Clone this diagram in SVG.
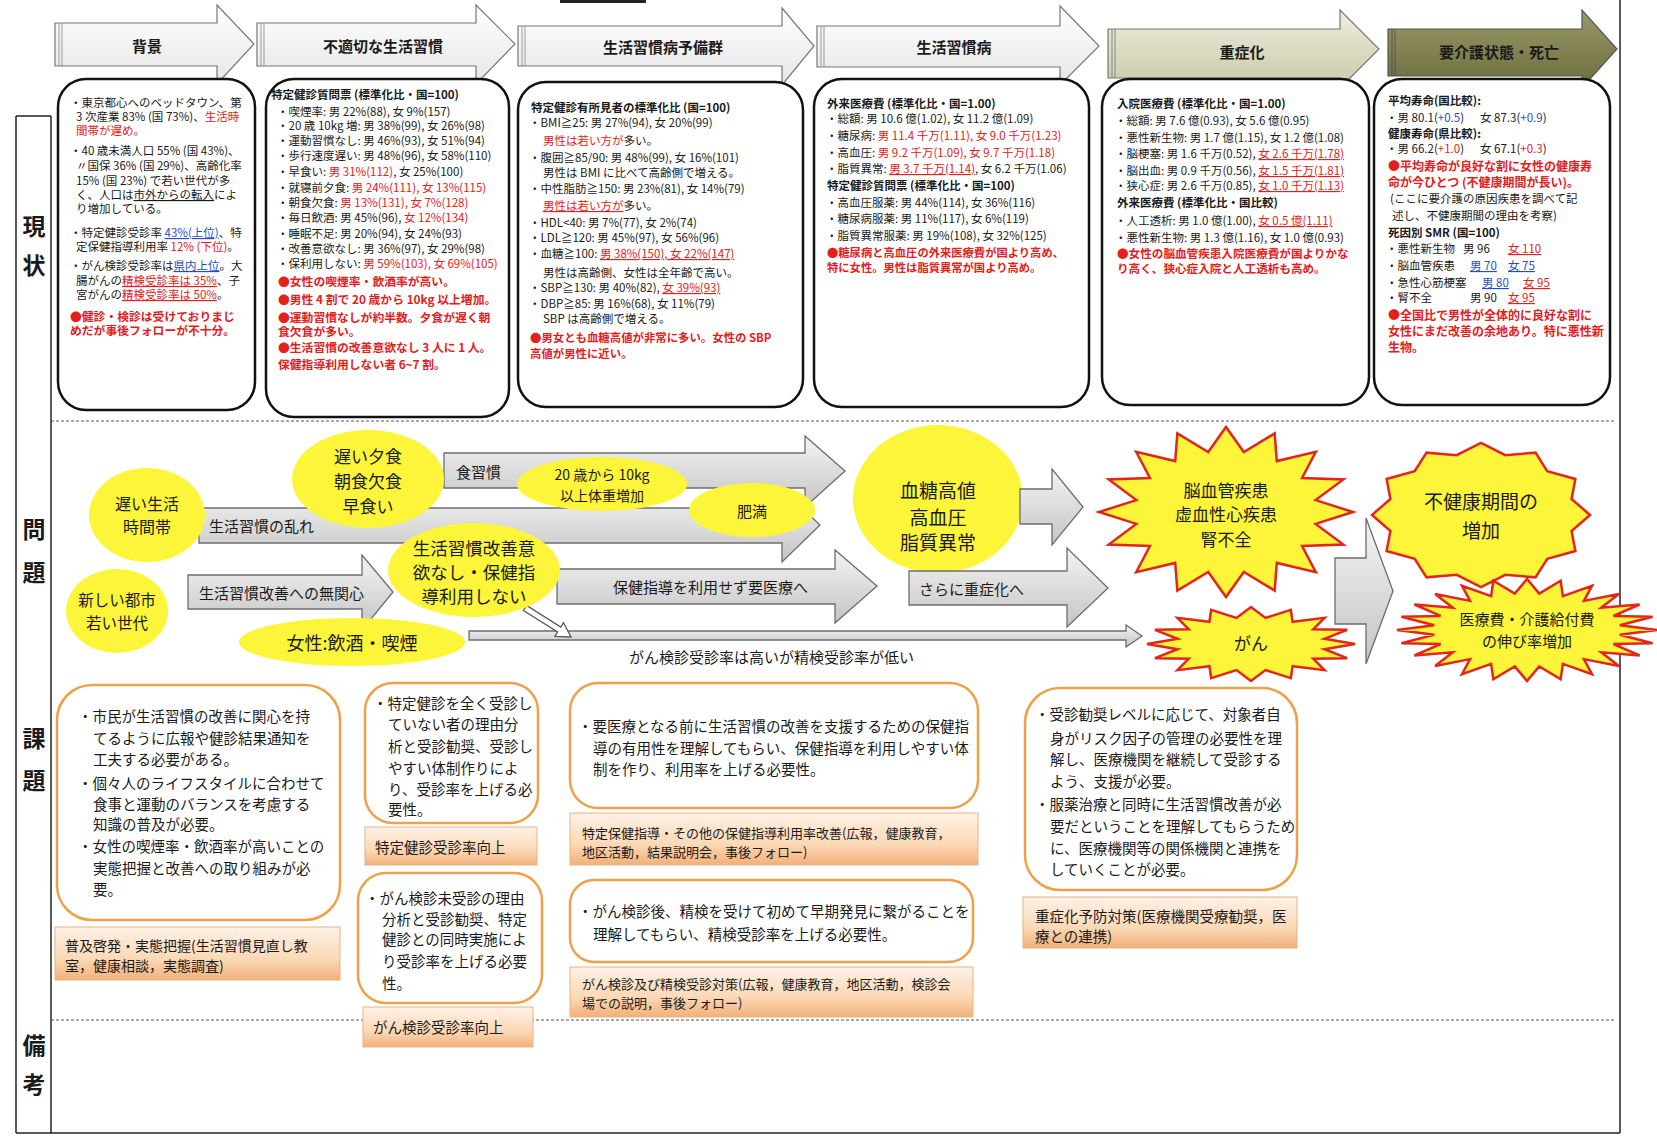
<svg xmlns="http://www.w3.org/2000/svg" width="1657" height="1137" viewBox="0 0 1657 1137">
<defs>
<style>
text{font-family:"Noto Sans CJK JP","Noto Sans CJK SC",sans-serif;fill:#1a1a1a;dominant-baseline:central}
.s{font-size:11.5px}
.h{font-size:11.5px;font-weight:700}
.rb{font-size:11.8px;font-weight:700;fill:#e4201c}
.r{fill:#e4201c}
.bl{fill:#1f4fc4}
.u{text-decoration:underline}
.hd{font-size:15px;font-weight:700;text-anchor:middle}
.lab{font-size:23px;font-weight:700;text-anchor:middle}
.box{fill:#fff;stroke:#111;stroke-width:2.5}
.obox{fill:#fff;stroke:#eea04a;stroke-width:2.5}
.sub{fill:url(#gsub);stroke:#e7b48a;stroke-width:1}
.m{font-size:15px}
.yl{fill:#fcf53a}
.st{fill:#fcf53a;stroke:#e3261d;stroke-width:2.5}
.ga{fill:url(#ggray);stroke:#6d6d6d;stroke-width:1.3}
.c{text-anchor:middle}
.bt{font-size:14.5px}
.sbt{font-size:13px}
.ln{stroke:#222;stroke-width:1.5;fill:none}
.dash{stroke:#555;stroke-width:1.2;stroke-dasharray:3 2;fill:none}
</style>
<linearGradient id="ggray" x1="0" y1="0" x2="0" y2="1">
<stop offset="0" stop-color="#f4f4f4"/><stop offset="1" stop-color="#c4c4c4"/>
</linearGradient>
<linearGradient id="gw" x1="0" y1="0" x2="0" y2="1">
<stop offset="0" stop-color="#ffffff"/><stop offset="1" stop-color="#e6e6e6"/>
</linearGradient>
<linearGradient id="gk" x1="0" y1="0" x2="0" y2="1">
<stop offset="0" stop-color="#eeeedd"/><stop offset="1" stop-color="#c9c9a8"/>
</linearGradient>
<linearGradient id="go" x1="0" y1="0" x2="0" y2="1">
<stop offset="0" stop-color="#9a9a68"/><stop offset="1" stop-color="#6c6c3e"/>
</linearGradient>
<linearGradient id="gsub" x1="0" y1="0" x2="0" y2="1">
<stop offset="0" stop-color="#fdf1e6"/><stop offset="0.6" stop-color="#fbd9b6"/><stop offset="1" stop-color="#f2b079"/>
</linearGradient>
<polygon id="star16" vector-effect="non-scaling-stroke" points="1,0 0.706,0.14 0.924,0.383 0.599,0.4 0.707,0.707 0.4,0.599 0.383,0.924 0.14,0.706 0,1 -0.14,0.706 -0.383,0.924 -0.4,0.599 -0.707,0.707 -0.599,0.4 -0.924,0.383 -0.706,0.14 -1,0 -0.706,-0.14 -0.924,-0.383 -0.599,-0.4 -0.707,-0.707 -0.4,-0.599 -0.383,-0.924 -0.14,-0.706 0,-1 0.14,-0.706 0.383,-0.924 0.4,-0.599 0.707,-0.707 0.599,-0.4 0.924,-0.383 0.706,-0.14"/>
<polygon id="star12" vector-effect="non-scaling-stroke" points="1,0 0.831,0.223 0.866,0.5 0.608,0.608 0.5,0.866 0.223,0.831 0,1 -0.223,0.831 -0.5,0.866 -0.608,0.608 -0.866,0.5 -0.831,0.223 -1,0 -0.831,-0.223 -0.866,-0.5 -0.608,-0.608 -0.5,-0.866 -0.223,-0.831 0,-1 0.223,-0.831 0.5,-0.866 0.608,-0.608 0.866,-0.5 0.831,-0.223"/>
<polygon id="star24" vector-effect="non-scaling-stroke" points="1,0 0.714,0.094 0.966,0.259 0.665,0.276 0.866,0.5 0.571,0.438 0.707,0.707 0.438,0.571 0.5,0.866 0.276,0.665 0.259,0.966 0.094,0.714 0,1 -0.094,0.714 -0.259,0.966 -0.276,0.665 -0.5,0.866 -0.438,0.571 -0.707,0.707 -0.571,0.438 -0.866,0.5 -0.665,0.276 -0.966,0.259 -0.714,0.094 -1,0 -0.714,-0.094 -0.966,-0.259 -0.665,-0.276 -0.866,-0.5 -0.571,-0.438 -0.707,-0.707 -0.438,-0.571 -0.5,-0.866 -0.276,-0.665 -0.259,-0.966 -0.094,-0.714 0,-1 0.094,-0.714 0.259,-0.966 0.276,-0.665 0.5,-0.866 0.438,-0.571 0.707,-0.707 0.571,-0.438 0.866,-0.5 0.665,-0.276 0.966,-0.259 0.714,-0.094"/>
</defs>
<rect width="1657" height="1137" fill="#fff"/>

<!-- frame -->
<g id="frame">
<line class="ln" x1="1620" y1="0" x2="1620" y2="1133"/>
<line class="ln" x1="51" y1="116" x2="51" y2="1133"/>
<line class="ln" x1="16" y1="116" x2="16" y2="1133"/>
<line class="ln" x1="16" y1="116" x2="51" y2="116"/>
<line class="ln" x1="16" y1="1133" x2="1620" y2="1133"/>
<line class="dash" x1="51" y1="421" x2="1616" y2="421"/>
<line class="dash" x1="51" y1="1020" x2="1616" y2="1020"/>
<rect x="560" y="0" width="86" height="3" fill="#222"/>
</g>

<g id="labels">
<text class="lab" x="34" y="225">現</text><text class="lab" x="34" y="264">状</text>
<text class="lab" x="34" y="528">問</text><text class="lab" x="34" y="571">題</text>
<text class="lab" x="34" y="737">課</text><text class="lab" x="34" y="779">題</text>
<text class="lab" x="34" y="1044">備</text><text class="lab" x="34" y="1083">考</text>
</g>

<!-- header arrows -->
<g id="h1"><polygon fill="url(#gw)" stroke="#777" stroke-width="1.2" points="55,23 217,23 217,5 254,44 217,84 217,66 55,66"/><line x1="59" y1="23" x2="59" y2="66" stroke="#999"/><line x1="62" y1="23" x2="62" y2="66" stroke="#999"/><text class="hd" x="147" y="45">背景</text></g>
<g id="h2"><polygon fill="url(#gw)" stroke="#777" stroke-width="1.2" points="257,23 476,23 476,5 515,44 476,84 476,66 257,66"/><line x1="261" y1="23" x2="261" y2="66" stroke="#999"/><line x1="264" y1="23" x2="264" y2="66" stroke="#999"/><text class="hd" x="383" y="45">不適切な生活習慣</text></g>
<g id="h3"><polygon fill="url(#gw)" stroke="#777" stroke-width="1.2" points="518,26 782,26 782,8 814,46 782,85 782,66 518,66"/><line x1="522" y1="26" x2="522" y2="66" stroke="#999"/><line x1="525" y1="26" x2="525" y2="66" stroke="#999"/><text class="hd" x="663" y="46">生活習慣病予備群</text></g>
<g id="h4"><polygon fill="url(#gw)" stroke="#777" stroke-width="1.2" points="817,26 1060,26 1060,6 1099,46 1060,85 1060,67 817,67"/><line x1="821" y1="26" x2="821" y2="67" stroke="#999"/><line x1="824" y1="26" x2="824" y2="67" stroke="#999"/><text class="hd" x="954" y="46">生活習慣病</text></g>
<g id="h5"><polygon fill="url(#gk)" stroke="#777" stroke-width="1.2" points="1108,29 1340,29 1340,10 1379,49 1340,88 1340,78 1108,78"/><line x1="1112" y1="29" x2="1112" y2="78" stroke="#888"/><line x1="1115" y1="29" x2="1115" y2="78" stroke="#888"/><text class="hd" x="1242" y="51">重症化</text></g>
<g id="h6"><polygon fill="url(#go)" stroke="#555" stroke-width="1.2" points="1388,29 1582,29 1582,10 1617,49 1582,88 1582,76 1388,76"/><line x1="1392" y1="29" x2="1392" y2="76" stroke="#555"/><line x1="1395" y1="29" x2="1395" y2="76" stroke="#555"/><text class="hd" x="1499" y="51">要介護状態・死亡</text></g>

<!-- status boxes -->
<g id="b1">
<rect class="box" x="58" y="79" width="197" height="331" rx="28"/>
<text class="s" x="70" y="102">・東京都心へのベッドタウン、第</text>
<text class="s" x="76" y="116">3 次産業 83% (国 73%)、<tspan class="r">生活時</tspan></text>
<text class="s r" x="76" y="130">間帯が遅め。</text>
<text class="s" x="70" y="150">・40 歳未満人口 55% (国 43%)、</text>
<text class="s" x="76" y="165">〃国保 36% (国 29%)、高齢化率</text>
<text class="s" x="76" y="180">15% (国 23%) で若い世代が多</text>
<text class="s" x="76" y="194">く、人口は<tspan class="u">市外からの転入</tspan>によ</text>
<text class="s" x="76" y="208">り増加している。</text>
<text class="s" x="70" y="232">・特定健診受診率 <tspan class="bl u">43%(上位)</tspan>、特</text>
<text class="s" x="76" y="246">定保健指導利用率 <tspan class="r">12% (下位)</tspan>。</text>
<text class="s" x="70" y="265">・がん検診受診率は<tspan class="bl u">県内上位</tspan>。大</text>
<text class="s" x="76" y="280">腸がんの<tspan class="r u">精検受診率は 35%</tspan>、子</text>
<text class="s" x="76" y="294">宮がんの<tspan class="r u">精検受診率は 50%</tspan>。</text>
<text class="rb" x="70" y="315">●健診・検診は受けておりまじ</text>
<text class="rb" x="70" y="329">めだが事後フォローが不十分。</text>
</g>

<g id="b2">
<rect class="box" x="266" y="79" width="243" height="338" rx="28"/>
<text class="h" x="271" y="94">特定健診質問票 (標準化比・国=100)</text>
<text class="s" x="277" y="111">・喫煙率: 男 22%(88), 女 9%(157)</text>
<text class="s" x="277" y="125">・20 歳 10kg 増: 男 38%(99), 女 26%(98)</text>
<text class="s" x="277" y="140">・運動習慣なし: 男 46%(93), 女 51%(94)</text>
<text class="s" x="277" y="155">・歩行速度遅い: 男 48%(96), 女 58%(110)</text>
<text class="s" x="277" y="171">・早食い: <tspan class="r">男 31%(112)</tspan>, 女 25%(100)</text>
<text class="s" x="277" y="187">・就寝前夕食: <tspan class="r">男 24%(111), 女 13%(115)</tspan></text>
<text class="s" x="277" y="202">・朝食欠食: <tspan class="r">男 13%(131), 女 7%(128)</tspan></text>
<text class="s" x="277" y="217">・毎日飲酒: 男 45%(96), <tspan class="r">女 12%(134)</tspan></text>
<text class="s" x="277" y="233">・睡眠不足: 男 20%(94), 女 24%(93)</text>
<text class="s" x="277" y="248">・改善意欲なし: 男 36%(97), 女 29%(98)</text>
<text class="s" x="277" y="263">・保利用しない: <tspan class="r">男 59%(103), 女 69%(105)</tspan></text>
<text class="rb" x="278" y="280">●女性の喫煙率・飲酒率が高い。</text>
<text class="rb" x="278" y="298">●男性 4 割で 20 歳から 10kg 以上増加。</text>
<text class="rb" x="278" y="316">●運動習慣なしが約半数。夕食が遅く朝</text>
<text class="rb" x="278" y="330">食欠食が多い。</text>
<text class="rb" x="278" y="346">●生活習慣の改善意欲なし 3 人に 1 人。</text>
<text class="rb" x="278" y="363">保健指導利用しない者 6~7 割。</text>
</g>

<g id="b3">
<rect class="box" x="518" y="82" width="285" height="325" rx="28"/>
<text class="h" x="531" y="107">特定健診有所見者の標準化比 (国=100)</text>
<text class="s" x="529" y="122">・BMI≧25: 男 27%(94), 女 20%(99)</text>
<text class="s" x="543" y="140"><tspan class="r">男性は若い方が</tspan>多い。</text>
<text class="s" x="529" y="157">・腹囲≧85/90: 男 48%(99), 女 16%(101)</text>
<text class="s" x="543" y="172">男性は BMI に比べて高齢側で増える。</text>
<text class="s" x="529" y="188">・中性脂肪≧150: 男 23%(81), 女 14%(79)</text>
<text class="s" x="543" y="205"><tspan class="r u">男性は若い方が</tspan>多い。</text>
<text class="s" x="529" y="222">・HDL&lt;40: 男 7%(77), 女 2%(74)</text>
<text class="s" x="529" y="237">・LDL≧120: 男 45%(97), 女 56%(96)</text>
<text class="s" x="529" y="253">・血糖≧100: <tspan class="r u">男 38%(150), 女 22%(147)</tspan></text>
<text class="s" x="543" y="272">男性は高齢側、女性は全年齢で高い。</text>
<text class="s" x="529" y="287">・SBP≧130: 男 40%(82), <tspan class="r u">女 39%(93)</tspan></text>
<text class="s" x="529" y="303">・DBP≧85: 男 16%(68), 女 11%(79)</text>
<text class="s" x="543" y="318">SBP は高齢側で増える。</text>
<text class="rb" x="530" y="337" style="font-size:11.4px">●男女とも血糖高値が非常に多い。女性の SBP</text>
<text class="rb" x="530" y="353" style="font-size:11.4px">高値が男性に近い。</text>
</g>

<g id="b4">
<rect class="box" x="814" y="79" width="275" height="328" rx="28"/>
<text class="h" x="827" y="103">外来医療費 (標準化比・国=1.00)</text>
<text class="s" x="826" y="118">・総額: 男 10.6 億(1.02), 女 11.2 億(1.09)</text>
<text class="s" x="826" y="135">・糖尿病: <tspan class="r">男 11.4 千万(1.11), 女 9.0 千万(1.23)</tspan></text>
<text class="s" x="826" y="152">・高血圧: <tspan class="r">男 9.2 千万(1.09), 女 9.7 千万(1.18)</tspan></text>
<text class="s" x="826" y="168">・脂質異常: <tspan class="r u">男 3.7 千万(1.14)</tspan>, 女 6.2 千万(1.06)</text>
<text class="h" x="827" y="185">特定健診質問票 (標準化比・国=100)</text>
<text class="s" x="826" y="202">・高血圧服薬: 男 44%(114), 女 36%(116)</text>
<text class="s" x="826" y="218">・糖尿病服薬: 男 11%(117), 女 6%(119)</text>
<text class="s" x="826" y="235">・脂質異常服薬: 男 19%(108), 女 32%(125)</text>
<text class="rb" x="827" y="252" style="font-size:11.3px">●糖尿病と高血圧の外来医療費が国より高め、</text>
<text class="rb" x="827" y="267" style="font-size:11.3px">特に女性。男性は脂質異常が国より高め。</text>
</g>

<g id="b5">
<rect class="box" x="1102" y="79" width="267" height="326" rx="28"/>
<text class="h" x="1117" y="103">入院医療費 (標準化比・国=1.00)</text>
<text class="s" x="1115" y="120">・総額: 男 7.6 億(0.93), 女 5.6 億(0.95)</text>
<text class="s" x="1115" y="137">・悪性新生物: 男 1.7 億(1.15), 女 1.2 億(1.08)</text>
<text class="s" x="1115" y="153">・脳梗塞: 男 1.6 千万(0.52), <tspan class="r u">女 2.6 千万(1.78)</tspan></text>
<text class="s" x="1115" y="170">・脳出血: 男 0.9 千万(0.56), <tspan class="r u">女 1.5 千万(1.81)</tspan></text>
<text class="s" x="1115" y="185">・狭心症: 男 2.6 千万(0.85), <tspan class="r u">女 1.0 千万(1.13)</tspan></text>
<text class="h" x="1117" y="202">外来医療費 (標準化比・国比較)</text>
<text class="s" x="1115" y="220">・人工透析: 男 1.0 億(1.00), <tspan class="r u">女 0.5 億(1.11)</tspan></text>
<text class="s" x="1115" y="237">・悪性新生物: 男 1.3 億(1.16), 女 1.0 億(0.93)</text>
<text class="rb" x="1117" y="253" style="font-size:11.6px">●女性の脳血管疾患入院医療費が国よりかな</text>
<text class="rb" x="1117" y="268" style="font-size:11.6px">り高く、狭心症入院と人工透析も高め。</text>
</g>

<g id="b6">
<rect class="box" x="1374" y="79" width="236" height="326" rx="28"/>
<text class="h" x="1388" y="100">平均寿命(国比較):</text>
<text class="s" x="1386" y="117">・男 80.1(<tspan class="bl">+0.5</tspan>)<tspan x="1480">女 87.3(</tspan><tspan class="bl">+0.9</tspan>)</text>
<text class="h" x="1388" y="133">健康寿命(県比較):</text>
<text class="s" x="1386" y="148">・男 66.2(<tspan class="r">+1.0</tspan>)<tspan x="1480">女 67.1(</tspan><tspan class="r">+0.3</tspan>)</text>
<text class="rb" x="1388" y="165" style="font-size:12px">●平均寿命が良好な割に女性の健康寿</text>
<text class="rb" x="1388" y="181" style="font-size:12px">命が今ひとつ (不健康期間が長い)。</text>
<text class="s" x="1390" y="198">(ここに要介護の原因疾患を調べて記</text>
<text class="s" x="1392" y="215">述し、不健康期間の理由を考察)</text>
<text class="h" x="1388" y="232">死因別 SMR (国=100)</text>
<text class="s" x="1386" y="248">・悪性新生物<tspan x="1463">男 96</tspan><tspan x="1508" class="r u">女 110</tspan></text>
<text class="s" x="1386" y="265">・脳血管疾患<tspan x="1470" class="bl u">男 70</tspan><tspan x="1508" class="bl u">女 75</tspan></text>
<text class="s" x="1386" y="282">・急性心筋梗塞<tspan x="1482" class="bl u">男 80</tspan><tspan x="1523" class="r u">女 95</tspan></text>
<text class="s" x="1386" y="297">・腎不全<tspan x="1470">男 90</tspan><tspan x="1508" class="r u">女 95</tspan></text>
<text class="rb" x="1388" y="314" style="font-size:12px">●全国比で男性が全体的に良好な割に</text>
<text class="rb" x="1388" y="330" style="font-size:12px">女性にまだ改善の余地あり。特に悪性新</text>
<text class="rb" x="1388" y="346" style="font-size:12px">生物。</text>
</g>

<!-- nodes under arrows -->
<g id="n_bs">
<ellipse class="yl" cx="938" cy="499" rx="85" ry="74"/>
<text class="c" x="938" y="489" style="font-size:19px">血糖高値</text>
<text class="c" x="938" y="516" style="font-size:19px">高血圧</text>
<text class="c" x="938" y="541" style="font-size:19px">脂質異常</text>
</g>

<!-- connectors -->
<g id="connectors">
<polygon class="ga" points="444,453 805,453 805,436 845,471 805,507 805,488 444,488"/>
<text class="m" x="456" y="471">食習慣</text>
<polygon class="ga" points="199,508 782,508 782,489 820,525 782,562 782,543 199,543"/>
<text class="m" x="209" y="525">生活習慣の乱れ</text>
<polygon class="ga" points="188,575 362,575 362,555 393,592 362,630 362,609 188,609"/>
<text class="m" x="199" y="592">生活習慣改善への無関心</text>
<polygon class="ga" points="557,569 835,569 835,550 877,586 835,623 835,604 557,604"/>
<text class="m" x="613" y="586">保健指導を利用せず要医療へ</text>
<polygon class="ga" points="1020,489 1052,489 1052,469 1083,507 1052,545 1052,524 1020,524"/>
<polygon class="ga" points="909,571 1067,571 1067,548 1108,588 1067,627 1067,605 909,605"/>
<text class="m" x="919" y="588">さらに重症化へ</text>
<polygon class="ga" points="469,631 1126,631 1126,625 1142,636 1126,647 1126,640 469,640"/>
<text class="m" x="629" y="656">がん検診受診率は高いが精検受診率が低い</text>
<polygon fill="#fff" stroke="#555" stroke-width="1.3" points="523.4,610.5 557.6,632 554.9,636.3 571,637 563.5,622.7 560.8,627 526.6,605.5"/>
<polygon class="ga" points="1335,558 1366,558 1366,518 1393,591 1366,664 1366,624 1335,624"/>
</g>

<!-- problem nodes -->
<g id="n_late">
<ellipse class="yl" cx="147" cy="515" rx="58" ry="47"/>
<text class="c" x="147" y="503" style="font-size:16px">遅い生活</text>
<text class="c" x="147" y="526" style="font-size:16px">時間帯</text>
</g>
<g id="n_dinner">
<ellipse class="yl" cx="368" cy="479" rx="76" ry="49"/>
<text class="c" x="368" y="455" style="font-size:17px">遅い夕食</text>
<text class="c" x="368" y="480" style="font-size:17px">朝食欠食</text>
<text class="c" x="368" y="505" style="font-size:17px">早食い</text>
</g>
<g id="n_weight">
<ellipse class="yl" cx="602" cy="484" rx="85" ry="27"/>
<text class="c" x="602" y="474" style="font-size:14px">20 歳から 10kg</text>
<text class="c" x="602" y="495" style="font-size:14px">以上体重増加</text>
</g>
<g id="n_obese">
<ellipse class="yl" cx="752" cy="510" rx="63" ry="27"/>
<text class="c" x="752" y="510" style="font-size:15px">肥満</text>
</g>
<g id="n_nomotiv">
<ellipse class="yl" cx="474" cy="570" rx="86" ry="47"/>
<text class="c" x="474" y="547" style="font-size:17.5px">生活習慣改善意</text>
<text class="c" x="474" y="571" style="font-size:17.5px">欲なし・保健指</text>
<text class="c" x="474" y="595" style="font-size:17.5px">導利用しない</text>
</g>
<g id="n_city">
<ellipse class="yl" cx="117" cy="611" rx="51" ry="42"/>
<text class="c" x="117" y="599" style="font-size:15.5px">新しい都市</text>
<text class="c" x="117" y="622" style="font-size:15.5px">若い世代</text>
</g>
<g id="n_women">
<ellipse class="yl" cx="352" cy="642" rx="113" ry="24"/>
<text class="c" x="352" y="642" style="font-size:18px">女性:飲酒・喫煙</text>
</g>
<g id="n_cvd">
<use href="#star16" class="st" transform="translate(1226 512) scale(127 85)"/>
<text class="c" x="1226" y="489" style="font-size:17px">脳血管疾患</text>
<text class="c" x="1226" y="513" style="font-size:17px">虚血性心疾患</text>
<text class="c" x="1226" y="538" style="font-size:17px">腎不全</text>
</g>
<g id="n_cancer">
<use href="#star16" class="st" transform="translate(1251 644) scale(104 37)"/>
<text class="c" x="1251" y="642" style="font-size:17px">がん</text>
</g>
<g id="n_unhealthy">
<use href="#star12" class="st" transform="translate(1481 515) scale(109 72)"/>
<text class="c" x="1481" y="500" style="font-size:19px">不健康期間の</text>
<text class="c" x="1481" y="529" style="font-size:19px">増加</text>
</g>
<g id="n_cost">
<use href="#star24" class="st" transform="translate(1527 630) scale(130 51)"/>
<text class="c" x="1527" y="618" style="font-size:15px">医療費・介護給付費</text>
<text class="c" x="1527" y="640" style="font-size:15px">の伸び率増加</text>
</g>

<!-- issue boxes -->
<g id="k1">
<rect class="obox" x="57" y="685" width="283" height="235" rx="35"/>
<text class="bt" x="78" y="715">・市民が生活習慣の改善に関心を持</text>
<text class="bt" x="93" y="737">てるように広報や健診結果通知を</text>
<text class="bt" x="93" y="758">工夫する必要がある。</text>
<text class="bt" x="78" y="782">・個々人のライフスタイルに合わせて</text>
<text class="bt" x="93" y="803">食事と運動のバランスを考慮する</text>
<text class="bt" x="93" y="823">知識の普及が必要。</text>
<text class="bt" x="78" y="845">・女性の喫煙率・飲酒率が高いことの</text>
<text class="bt" x="93" y="867">実態把握と改善への取り組みが必</text>
<text class="bt" x="93" y="888">要。</text>
</g>
<g id="k1s">
<rect class="sub" x="55" y="927" width="285" height="53"/>
<text class="bt" x="65" y="945" style="font-size:14px">普及啓発・実態把握(生活習慣見直し教</text>
<text class="bt" x="65" y="965" style="font-size:14px">室，健康相談，実態調査)</text>
</g>
<g id="k2">
<rect class="obox" x="365" y="683" width="173" height="140" rx="28"/>
<text class="bt" x="373" y="702">・特定健診を全く受診し</text>
<text class="bt" x="388" y="723">ていない者の理由分</text>
<text class="bt" x="388" y="745">析と受診勧奨、受診し</text>
<text class="bt" x="388" y="767">やすい体制作りによ</text>
<text class="bt" x="388" y="788">り、受診率を上げる必</text>
<text class="bt" x="388" y="808">要性。</text>
</g>
<g id="k2s">
<rect class="sub" x="365" y="827" width="172" height="38"/>
<text class="bt" x="375" y="846">特定健診受診率向上</text>
</g>
<g id="k3">
<rect class="obox" x="358" y="873" width="184" height="130" rx="28"/>
<text class="bt" x="365" y="897">・がん検診未受診の理由</text>
<text class="bt" x="382" y="918">分析と受診勧奨、特定</text>
<text class="bt" x="382" y="938">健診との同時実施によ</text>
<text class="bt" x="382" y="960">り受診率を上げる必要</text>
<text class="bt" x="382" y="982">性。</text>
</g>
<g id="k3s">
<rect class="sub" x="363" y="1007" width="170" height="40"/>
<text class="bt" x="373" y="1026">がん検診受診率向上</text>
</g>
<g id="k4">
<rect class="obox" x="570" y="683" width="408" height="125" rx="28"/>
<text class="bt" x="578" y="725">・要医療となる前に生活習慣の改善を支援するための保健指</text>
<text class="bt" x="593" y="747">導の有用性を理解してもらい、保健指導を利用しやすい体</text>
<text class="bt" x="593" y="768">制を作り、利用率を上げる必要性。</text>
</g>
<g id="k4s">
<rect class="sub" x="570" y="813" width="408" height="52"/>
<text class="sbt" x="582" y="832">特定保健指導・その他の保健指導利用率改善(広報，健康教育，</text>
<text class="sbt" x="582" y="851">地区活動，結果説明会，事後フォロー)</text>
</g>
<g id="k5">
<rect class="obox" x="570" y="880" width="403" height="82" rx="24"/>
<text class="bt" x="578" y="910">・がん検診後、精検を受けて初めて早期発見に繋がることを</text>
<text class="bt" x="593" y="933">理解してもらい、精検受診率を上げる必要性。</text>
</g>
<g id="k5s">
<rect class="sub" x="570" y="967" width="403" height="50"/>
<text class="sbt" x="582" y="983">がん検診及び精検受診対策(広報，健康教育，地区活動，検診会</text>
<text class="sbt" x="582" y="1002">場での説明，事後フォロー)</text>
</g>
<g id="k6">
<rect class="obox" x="1025" y="688" width="272" height="202" rx="35"/>
<text class="bt" x="1035" y="713">・受診勧奨レベルに応じて、対象者自</text>
<text class="bt" x="1050" y="737">身がリスク因子の管理の必要性を理</text>
<text class="bt" x="1050" y="758">解し、医療機関を継続して受診する</text>
<text class="bt" x="1050" y="780">よう、支援が必要。</text>
<text class="bt" x="1035" y="803">・服薬治療と同時に生活習慣改善が必</text>
<text class="bt" x="1050" y="825">要だということを理解してもらうため</text>
<text class="bt" x="1050" y="847">に、医療機関等の関係機関と連携を</text>
<text class="bt" x="1050" y="868">していくことが必要。</text>
</g>
<g id="k6s">
<rect class="sub" x="1023" y="897" width="274" height="51"/>
<text class="bt" x="1035" y="915">重症化予防対策(医療機関受療勧奨，医</text>
<text class="bt" x="1035" y="935">療との連携)</text>
</g>
</svg>
